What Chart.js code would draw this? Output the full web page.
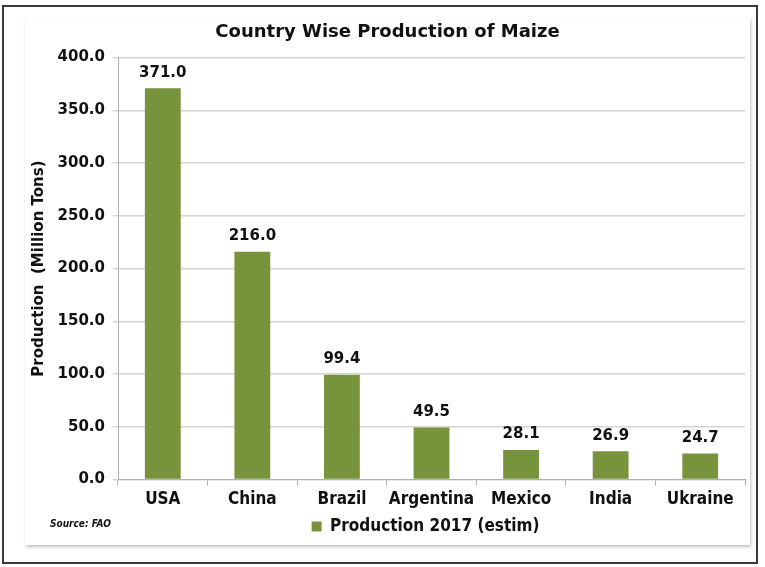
<!DOCTYPE html>
<html>
<head>
<meta charset="utf-8">
<script src="https://cdn.jsdelivr.net/npm/chart.js@4"></script>
<style>
  html, body { margin: 0; padding: 0; background: #fff; }
  #page { position: relative; width: 765px; height: 567px; overflow: hidden; }
  .frame { position: absolute; left: 2px; top: 5px; width: 752px; height: 555px; border: 2px solid #3a3a3a; }
  .panel { position: absolute; left: 25px; top: 17px; width: 725px; height: 528px; background: #fff;
           box-shadow: 1px 2px 3px rgba(0,0,0,0.25); }
  canvas { position: absolute; left: 0; top: 0; }
</style>
</head>
<body>
<div id="page">
  <div class="frame"></div>
  <div class="panel"></div>
  <canvas id="chMaize" width="765" height="567"></canvas>
</div>
<script>
// data
const countries = ['USA', 'China', 'Brazil', 'Argentina', 'Mexico', 'India', 'Ukraine'];
const production = [371.0, 216.0, 99.4, 49.5, 28.1, 26.9, 24.7];
const yTicks = [0, 50, 100, 150, 200, 250, 300, 350, 400];

const GREEN = '#77933c';
const FONT = "'DejaVu Sans', Verdana, sans-serif";
const COND = "'DejaVu Sans Condensed', 'DejaVu Sans', sans-serif";

// value labels above bars + the source note
const barLabels = {
  id: 'barLabels',
  afterLayout(chart) {
    // legend sits centred under the plot area, not the whole canvas
    const lg = chart.legend;
    const shift = (chart.chartArea.left + chart.chartArea.right) / 2 - (lg.left + lg.right) / 2 - 6;
    lg.left += shift; lg.right += shift;
  },
  afterDatasetsDraw(chart) {
    const ctx = chart.ctx;
    const meta = chart.getDatasetMeta(0);
    ctx.save();
    ctx.font = 'bold 15px ' + FONT;
    ctx.fillStyle = '#111';
    ctx.textAlign = 'center';
    ctx.textBaseline = 'bottom';
    meta.data.forEach((bar, i) => {
      ctx.fillText(production[i].toFixed(1), bar.x, bar.y - 8);
    });
    ctx.font = 'italic bold 10px ' + COND;
    ctx.textAlign = 'left';
    ctx.textBaseline = 'middle';
    ctx.fillText('Source: FAO', 50, 524);
    ctx.restore();
  }
};

new Chart(document.getElementById('chMaize'), {
  type: 'bar',
  data: {
    labels: countries,
    datasets: [{
      label: 'Production 2017 (estim)',
      data: production,
      backgroundColor: GREEN,
      borderWidth: 0,
      barPercentage: 0.4,
      categoryPercentage: 1.0
    }]
  },
  options: {
    responsive: false,
    animation: false,
    devicePixelRatio: 1,
    layout: { padding: { top: 12, left: 30, right: 20, bottom: 22 } },
    plugins: {
      title: {
        display: true,
        text: 'Country Wise Production of Maize',
        color: '#111',
        font: { family: FONT, size: 18, weight: 'bold' },
        padding: { top: 10, bottom: 14 }
      },
      legend: {
        position: 'bottom',
        labels: {
          boxWidth: 10, boxHeight: 10, color: '#111',
          font: { family: COND, size: 17, weight: 'bold' },
          padding: 4
        }
      },
      tooltip: { enabled: false }
    },
    scales: {
      x: {
        grid: { display: true, drawOnChartArea: false, tickLength: 6, color: '#b0b0b0' },
        border: { color: '#b0b0b0' },
        ticks: { color: '#111', font: { family: COND, size: 17, weight: 'bold' }, padding: 4, maxRotation: 0 }
      },
      y: {
        min: 0, max: 400,
        afterBuildTicks: s => { s.ticks = yTicks.map(v => ({ value: v })); },
        afterFit: s => { s.width = 88; },
        grid: { color: '#d4d4d4', lineWidth: 1.5, tickLength: 5 },
        border: { color: '#b0b0b0' },
        ticks: {
          color: '#111', padding: 8,
          font: { family: FONT, size: 15, weight: 'bold' },
          callback: v => v.toFixed(1)
        },
        title: {
          display: true,
          text: 'Production  (Million Tons)',
          color: '#111',
          font: { family: FONT, size: 15, weight: 'bold' },
          padding: 0
        }
      }
    }
  },
  plugins: [barLabels]
});
</script>
</body>
</html>
